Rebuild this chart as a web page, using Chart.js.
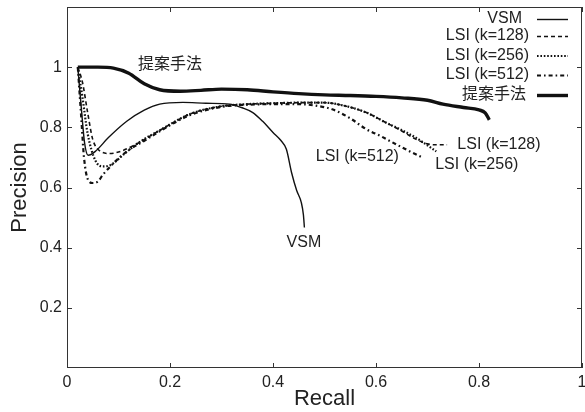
<!DOCTYPE html>
<html>
<head>
<meta charset="utf-8">
<script src="https://cdn.jsdelivr.net/npm/chart.js@4"></script>
<style>
  html, body { margin: 0; padding: 0; background: #fff; }
  #wrap { width: 585px; height: 412px; position: relative; }
</style>
</head>
<body>
<div id="wrap"><canvas id="prChart"></canvas></div>
<script>
// precision / recall curves
const vsmRecall    = [0.021, 0.028, 0.034, 0.041, 0.055, 0.08, 0.116, 0.15, 0.18, 0.225, 0.27, 0.316, 0.34, 0.36, 0.38, 0.40, 0.415, 0.426, 0.436, 0.446, 0.455, 0.459, 0.461];
const vsmPrecision = [1.0, 0.86, 0.75, 0.707, 0.72, 0.765, 0.82, 0.857, 0.877, 0.883, 0.88, 0.877, 0.865, 0.85, 0.82, 0.783, 0.757, 0.727, 0.65, 0.59, 0.55, 0.51, 0.467];

const lsi128Recall    = [0.021, 0.03, 0.04, 0.05, 0.065, 0.083, 0.1, 0.13, 0.18, 0.24, 0.3, 0.35, 0.4, 0.45, 0.5, 0.53, 0.58, 0.62, 0.645, 0.678, 0.70, 0.715, 0.738];
const lsi128Precision = [1.0, 0.95, 0.85, 0.76, 0.72, 0.713, 0.718, 0.74, 0.79, 0.845, 0.87, 0.877, 0.88, 0.882, 0.882, 0.875, 0.85, 0.815, 0.793, 0.76, 0.745, 0.742, 0.742];

const lsi256Recall    = [0.021, 0.03, 0.04, 0.055, 0.07, 0.085, 0.11, 0.14, 0.18, 0.24, 0.3, 0.35, 0.4, 0.45, 0.5, 0.53, 0.58, 0.62, 0.645, 0.678, 0.70, 0.717];
const lsi256Precision = [1.0, 0.9, 0.78, 0.69, 0.67, 0.675, 0.71, 0.75, 0.79, 0.845, 0.87, 0.877, 0.88, 0.882, 0.882, 0.875, 0.85, 0.815, 0.795, 0.765, 0.74, 0.72];

const lsi512Recall    = [0.021, 0.027, 0.033, 0.041, 0.05, 0.06, 0.07, 0.09, 0.116, 0.15, 0.18, 0.238, 0.3, 0.35, 0.4, 0.45, 0.49, 0.515, 0.55, 0.58, 0.61, 0.632, 0.66, 0.69];
const lsi512Precision = [1.0, 0.85, 0.7, 0.625, 0.615, 0.62, 0.643, 0.68, 0.72, 0.755, 0.787, 0.84, 0.868, 0.875, 0.877, 0.877, 0.87, 0.86, 0.83, 0.795, 0.77, 0.75, 0.725, 0.70];

const propRecall    = [0.021, 0.06, 0.09, 0.12, 0.15, 0.18, 0.22, 0.26, 0.30, 0.35, 0.40, 0.45, 0.50, 0.55, 0.60, 0.65, 0.70, 0.73, 0.77, 0.80, 0.812, 0.82];
const propPrecision = [1.0, 1.0, 0.997, 0.98, 0.945, 0.925, 0.92, 0.923, 0.927, 0.925, 0.918, 0.912, 0.908, 0.906, 0.903, 0.898, 0.89, 0.877, 0.866, 0.858, 0.848, 0.825];

const seriesLabels = ['VSM', 'LSI (k=128)', 'LSI (k=256)', 'LSI (k=512)', '提案手法'];
const xTicks = [0, 0.2, 0.4, 0.6, 0.8, 1];
const yTicks = [0.2, 0.4, 0.6, 0.8, 1];

// in-plot labels: [text, recall, precision, align]
const curveNotes = [
  ['提案手法', 0.20, 1.008, 'center'],
  ['VSM', 0.46, 0.417, 'center'],
  ['LSI (k=128)', 0.758, 0.743, 'left'],
  ['LSI (k=256)', 0.715, 0.677, 'left'],
  ['LSI (k=512)', 0.483, 0.703, 'left']
];

const INK = '#111';
const TXT = '#222';
const SANS = '"Liberation Sans", Arial, sans-serif';
const JP = '"Liberation Sans", "Noto Sans CJK JP", sans-serif';

function pts(xs, ys){ return xs.map((x, i) => ({x: x, y: ys[i]})); }

const styles = [
  {borderWidth: 1.4, borderDash: []},
  {borderWidth: 1.6, borderDash: [4, 3]},
  {borderWidth: 2.2, borderDash: [1.6, 1.8]},
  {borderWidth: 2.2, borderDash: [4, 3, 1.6, 3]},
  {borderWidth: 3.4, borderDash: []}
];
const seriesData = [
  pts(vsmRecall, vsmPrecision),
  pts(lsi128Recall, lsi128Precision),
  pts(lsi256Recall, lsi256Precision),
  pts(lsi512Recall, lsi512Precision),
  pts(propRecall, propPrecision)
];

const datasets = seriesLabels.map((lab, i) => ({
  label: lab,
  data: seriesData[i],
  showLine: true,
  borderColor: INK,
  borderWidth: styles[i].borderWidth,
  borderDash: styles[i].borderDash,
  pointRadius: 0,
  cubicInterpolationMode: 'monotone',
  fill: false
}));

// frame, inward ticks, legend and curve labels
const decor = {
  id: 'decor',
  afterDatasetsDraw(chart){
    const ctx = chart.ctx, a = chart.chartArea;
    const xs = chart.scales.x, ys = chart.scales.y;
    ctx.save();
    ctx.strokeStyle = '#333'; ctx.lineWidth = 1; ctx.setLineDash([]);
    ctx.strokeRect(a.left + 0.5, a.top + 0.5, a.right - a.left - 1, a.bottom - a.top - 1);
    ctx.beginPath();
    xTicks.forEach(v => {
      const px = Math.round(xs.getPixelForValue(v)) + 0.5;
      ctx.moveTo(px, a.bottom); ctx.lineTo(px, a.bottom - 5);
      ctx.moveTo(px, a.top); ctx.lineTo(px, a.top + 5);
    });
    yTicks.forEach(v => {
      const py = Math.round(ys.getPixelForValue(v)) + 0.5;
      ctx.moveTo(a.left, py); ctx.lineTo(a.left + 5, py);
      ctx.moveTo(a.right, py); ctx.lineTo(a.right - 5, py);
    });
    ctx.stroke();

    // legend, text to the left of the sample line
    const rows = [19, 36, 55.5, 75, 95];
    const textRight = [522, 529, 529, 529, 526];
    ctx.font = '16px ' + JP;
    ctx.fillStyle = TXT;
    ctx.textAlign = 'right'; ctx.textBaseline = 'middle';
    chart.data.datasets.forEach((d, i) => {
      ctx.fillText(d.label, textRight[i], rows[i]);
      ctx.beginPath();
      ctx.lineWidth = d.borderWidth;
      ctx.setLineDash(d.borderDash);
      ctx.strokeStyle = INK;
      ctx.moveTo(537, rows[i] + 0.5); ctx.lineTo(568, rows[i] + 0.5);
      ctx.stroke();
    });
    ctx.setLineDash([]);

    curveNotes.forEach(n => {
      ctx.textAlign = n[3];
      ctx.fillText(n[0], xs.getPixelForValue(n[1]), ys.getPixelForValue(n[2]));
    });
    ctx.restore();
  }
};

new Chart(document.getElementById('prChart'), {
  type: 'scatter',
  data: { datasets: datasets },
  options: {
    responsive: true,
    maintainAspectRatio: false,
    animation: false,
    layout: { padding: { top: 7, right: 3, left: 0, bottom: 0 } },
    plugins: { legend: { display: false }, tooltip: { enabled: false } },
    scales: {
      x: {
        type: 'linear', min: 0, max: 1,
        grid: { display: false, drawTicks: false },
        border: { display: false },
        afterBuildTicks: s => { s.ticks = xTicks.map(v => ({value: v})); },
        afterFit: s => { s.height = 44; s.paddingLeft = 0; s.paddingRight = 0; },
        ticks: {
          padding: 5, color: TXT, font: { family: SANS, size: 16 }, maxRotation: 0,
          callback: v => (v === 0 || v === 1) ? String(v) : v.toFixed(1)
        },
        title: { display: true, text: 'Recall', color: TXT, font: { family: SANS, size: 22 }, padding: { top: 0, bottom: 0 } }
      },
      y: {
        type: 'linear', min: 0, max: 1.2,
        grid: { display: false, drawTicks: false },
        border: { display: false },
        afterBuildTicks: s => { s.ticks = yTicks.map(v => ({value: v})); },
        afterFit: s => { s.width = 67; s.paddingTop = 0; s.paddingBottom = 0; },
        ticks: {
          padding: 5, color: TXT, font: { family: SANS, size: 16 },
          callback: v => v === 1 ? '1' : v.toFixed(1)
        },
        title: { display: true, text: 'Precision', color: TXT, font: { family: SANS, size: 22 }, padding: { top: 7, bottom: 0 } }
      }
    }
  },
  plugins: [decor]
});
</script>
</body>
</html>
